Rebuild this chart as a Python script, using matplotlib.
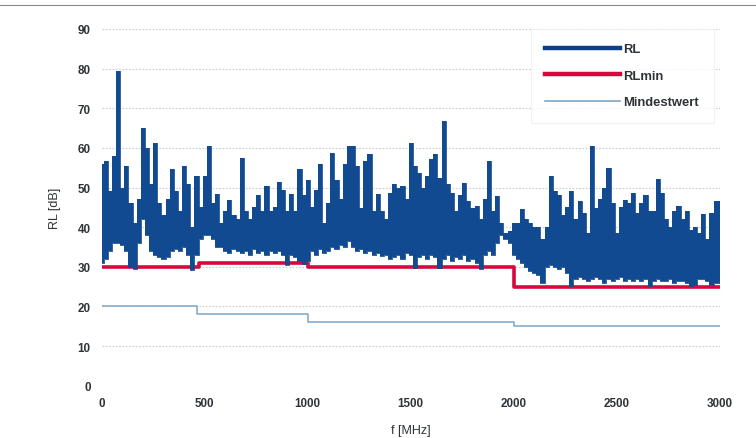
"""
Return loss chart RL vs frequency, with limit lines.
"""

import numpy as np
import matplotlib
matplotlib.use('Agg')
import matplotlib.pyplot as plt


# Settings
plt.rcParams['font.family'] = ['Liberation Sans', 'DejaVu Sans']
figsize = (7.56, 4.39)

col_rl = '#114a91'
col_rlmin = '#d8073c'
col_min = '#7ea6c6'
col_text = '#2f3338'


# frequency grid of the readings (MHz)
freq = list(range(0, 3001, 20))

# RL upper values
rl_hi = [
    56.0, 56.6, 49.0, 58.0, 79.5, 50.0, 55.4, 46.0, 41.0, 47.0,
    65.1, 60.0, 51.0, 61.3, 46.0, 43.0, 47.0, 54.8, 49.0, 44.0,
    55.4, 51.0, 40.0, 52.9, 45.0, 52.9, 60.5, 46.0, 48.3, 41.0,
    44.0, 46.8, 43.0, 42.0, 57.5, 44.0, 42.0, 45.0, 48.0, 44.0,
    50.4, 44.0, 45.0, 51.3, 49.5, 44.0, 48.3, 44.0, 54.8, 48.0,
    52.0, 45.0, 49.5, 55.9, 41.0, 46.0, 58.8, 52.0, 47.0, 55.9,
    60.5, 60.5, 55.4, 44.9, 56.7, 58.4, 44.0, 48.3, 44.0, 42.0,
    48.7, 50.8, 50.0, 50.4, 47.0, 61.3, 55.4, 53.7, 50.0, 52.9,
    57.3, 58.4, 52.5, 66.8, 50.8, 48.7, 44.0, 48.0, 51.2, 46.6,
    44.9, 45.3, 42.0, 47.0, 56.7, 44.0, 47.9, 41.0, 38.6, 39.0,
    41.0, 41.0, 44.5, 42.0, 41.0, 40.0, 40.0, 37.0, 40.0, 52.9,
    49.1, 48.0, 43.0, 45.0, 49.1, 42.0, 46.6, 43.6, 38.6, 60.5,
    44.9, 47.0, 50.0, 55.0, 46.2, 38.6, 45.0, 46.9, 46.2, 48.7,
    43.6, 46.2, 48.0, 44.0, 44.0, 52.1, 48.7, 42.0, 40.0, 44.1,
    45.3, 42.0, 44.0, 39.4, 40.0, 38.6, 43.3, 37.0, 43.6, 46.6,
    46.6,
]

# RL lower values
rl_lo = [
    31.0, 32.0, 34.0, 36.0, 36.0, 35.5, 34.0, 30.0, 29.5, 36.0,
    42.0, 38.0, 34.0, 33.0, 32.5, 32.0, 32.5, 34.0, 34.5, 34.0,
    35.0, 33.0, 29.3, 33.0, 37.0, 38.0, 38.0, 37.0, 35.0, 35.0,
    34.0, 33.6, 34.5, 34.0, 33.5, 34.0, 33.0, 34.5, 33.5, 34.0,
    33.0, 34.0, 33.5, 34.0, 33.0, 30.5, 33.0, 32.5, 31.5, 30.6,
    31.5, 34.0, 33.0, 34.4, 33.5, 34.0, 35.0, 34.5, 35.5, 35.0,
    36.6, 35.0, 34.0, 34.4, 33.5, 34.0, 33.0, 33.5, 32.6, 33.0,
    32.0, 32.5, 33.0, 32.0, 33.6, 33.0, 29.8, 32.5, 33.0, 32.0,
    33.0, 32.5, 29.6, 32.0, 33.0, 31.5, 32.5, 32.0, 33.0, 31.5,
    32.0, 31.0, 29.5, 33.0, 34.0, 33.0, 36.0, 38.0, 37.0, 36.0,
    33.0, 32.0, 31.0, 30.0, 29.0, 28.5, 28.0, 26.0, 30.0, 30.5,
    30.0, 29.5, 30.0, 28.5, 25.2, 27.0, 27.5, 27.0, 26.5, 27.0,
    27.5, 27.0, 26.0, 27.0, 26.5, 27.0, 27.5, 26.5, 27.0, 26.5,
    27.0, 26.5, 27.0, 25.2, 26.5, 27.0, 26.5, 26.5, 27.0, 26.0,
    26.5, 26.5, 26.0, 25.2, 25.5, 26.8, 27.0, 26.5, 25.5, 26.0,
    26.0,
]

# limit lines (step functions)
rlmin_f = [0, 470, 470, 1000, 1000, 2000, 2000, 3000]
rlmin_v = [30, 30, 31, 31, 30, 30, 25, 25]

mind_f = [0, 465, 465, 1000, 1000, 2000, 2000, 3000]
mind_v = [20, 20, 18, 18, 16, 16, 15, 15]


def graph_rl():
    fig = plt.figure(figsize = figsize, dpi = 100)
    ax = fig.add_axes([0.1345, 0.1191, 0.8175, 0.8126])

    # RL as a dense band between the lower and upper readings
    ax.fill_between(freq, rl_lo, rl_hi, step = 'mid', color = col_rl,
                    linewidth = 0, zorder = 3)
    ax.step(freq, rl_hi, where = 'mid', color = col_rl, linewidth = 0.6,
            label = 'RL', zorder = 3)
    ax.step(freq, rl_lo, where = 'mid', color = col_rl, linewidth = 0.6,
            zorder = 3)

    ax.plot(rlmin_f, rlmin_v, color = col_rlmin, linewidth = 2.6,
            label = 'RLmin', zorder = 2)
    ax.plot(mind_f, mind_v, color = col_min, linewidth = 1.1,
            label = 'Mindestwert', zorder = 2)

    ax.set_xlim(0, 3000)
    ax.set_ylim(0, 90)
    ax.set_xticks(np.arange(0, 3001, 500))
    ax.set_yticks(np.arange(0, 91, 10))

    ax.grid(axis = 'y', color = '#c9ccd0', linestyle = (0, (1.5, 1.5)),
            linewidth = 0.8)
    for s in ax.spines.values():
        s.set_visible(False)
    ax.tick_params(length = 0, labelsize = 8.4, colors = col_text, pad = 8)
    for lb in ax.get_xticklabels() + ax.get_yticklabels():
        lb.set_fontweight('bold')

    ax.set_xlabel('f [MHz]', fontsize = 9, color = col_text, labelpad = 11)
    ax.set_ylabel('RL [dB]', fontsize = 9, color = col_text, labelpad = 12)

    leg = ax.legend(loc = 'upper right', bbox_to_anchor = (0.99, 1.0),
                    borderaxespad = 0, frameon = True, fancybox = False,
                    handlelength = 5.7, handletextpad = 0.3,
                    labelspacing = 1.1, borderpad = 1.1,
                    prop = {'size': 9.4, 'weight': 'bold'})
    leg.get_frame().set_edgecolor('#eceef0')
    leg.get_frame().set_linewidth(0.8)
    for t in leg.get_texts():
        t.set_color(col_text)
    lines = leg.get_lines()
    lines[0].set_linewidth(3.2)
    lines[0].set_color('#0d3f88')
    lines[1].set_linewidth(3.2)
    lines[2].set_linewidth(1.2)

    # scan border at the top
    fig.add_artist(plt.Line2D([0, 1], [0.986, 0.986], color = '#8a8a8a',
                              linewidth = 0.8, transform = fig.transFigure))

    fig.savefig('out.png', dpi = 100)
    return


#====================
if __name__ == '__main__':
    graph_rl()
